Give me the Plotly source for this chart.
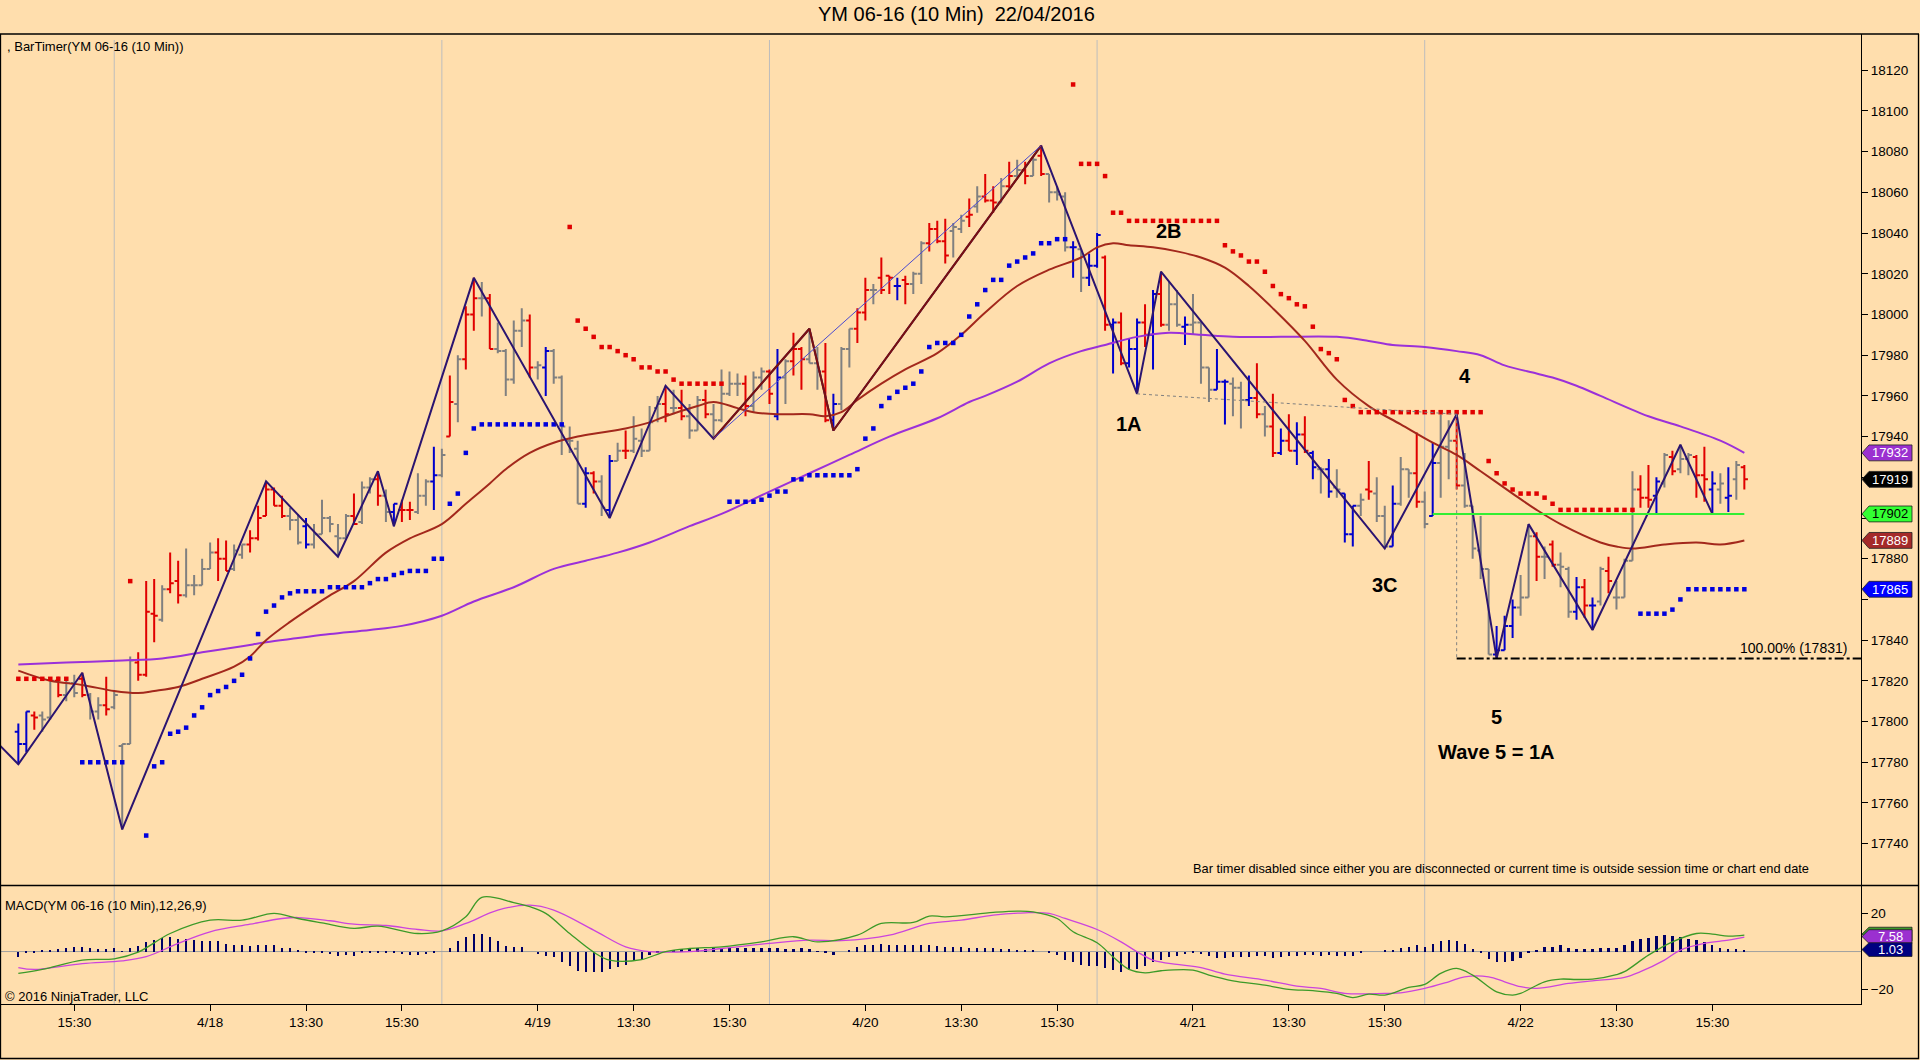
"""YM 06-16 (10 Min) bar chart with stops, moving averages, zigzag and MACD."""
import plotly.graph_objects as go

N = None

TITLE = 'YM 06-16 (10 Min)  22/04/2016'

# one entry per 10 minute bar, oldest first
OPEN = [
    17795, 17789, 17803, 17803, 17802, 17820, 17813, 17819, 17821, 17813,
    17805, 17808, 17807, 17788, 17789, 17829, 17823, 17853, 17850, 17865,
    17869, 17862, 17867, 17867, 17875, 17883, 17880, 17875, 17882, 17887,
    17890, 17901, 17914, 17906, 17901, 17899, 17896, 17887, 17892, 17900,
    17891, 17890, 17901, 17898, 17915, 17919, 17911, 17903, 17904, 17904,
    17903, 17911, 17918, 17921, 17940, 17956, 17978, 18000, 18008, 18008,
    17983, 17982, 17968, 17992, 17997, 17974, 17974, 17982, 17969, 17938,
    17934, 17907, 17922, 17918, 17904, 17928, 17933, 17933, 17938, 17933,
    17954, 17956, 17954, 17954, 17950, 17943, 17958, 17951, 17948, 17961,
    17966, 17966, 17955, 17969, 17972, 17950, 17969, 17977, 17983, 17978,
    17976, 17972, 17948, 17956, 17983, 17993, 18001, 18012, 18018, 18019,
    18014, 18017, 18015, 18020, 18035, 18042, 18036, 18041, 18042, 18048,
    18053, 18058, 18056, 18055, 18063, 18068, 18071, 18068, 18078, 18069,
    18060, 18058, 18033, 18032, 18018, 18024, 18028, 17995, 17996, 17976,
    17983, 17996, 17990, 18010, 17995, 18005, 17994, 17995, 17996, 17974,
    17963, 17967, 17966, 17964, 17958, 17959, 17951, 17945, 17932, 17938,
    17933, 17941, 17932, 17924, 17924, 17915, 17912, 17892, 17906, 17914,
    17912, 17901, 17886, 17907, 17924, 17922, 17908, 17901, 17927, 17935,
    17938, 17916, 17906, 17884, 17875, 17833, 17835, 17847, 17856, 17861,
    17891, 17881, 17887, 17877, 17875, 17854, 17866, 17857, 17859, 17874,
    17861, 17861, 17879, 17914, 17910, 17911, 17917, 17930, 17924, 17929,
    17930, 17921, 17914, 17914, 17910, 17919, 17925,
]
HIGH = [
    17799, 17805, 17805, 17805, 17821, 17822, 17821, 17823, 17824, 17814,
    17812, 17822, 17815, 17789, 17832, 17834, 17869, 17870, 17867, 17883,
    17879, 17885, 17872, 17880, 17888, 17890, 17889, 17887, 17887, 17894,
    17906, 17918, 17915, 17911, 17905, 17902, 17900, 17897, 17909, 17901,
    17897, 17902, 17912, 17918, 17920, 17923, 17914, 17907, 17909, 17908,
    17922, 17919, 17935, 17934, 17970, 17980, 18004, 18018, 18016, 18010,
    17996, 17983, 17997, 18003, 18000, 17977, 17984, 17983, 17970, 17945,
    17938, 17925, 17923, 17921, 17931, 17937, 17943, 17950, 17944, 17955,
    17960, 17965, 17963, 17963, 17956, 17960, 17963, 17956, 17973, 17972,
    17971, 17970, 17972, 17974, 17973, 17983, 17978, 17991, 17984, 17993,
    17984, 17986, 17961, 17984, 17993, 18003, 18018, 18015, 18028, 18019,
    18018, 18019, 18021, 18036, 18045, 18046, 18047, 18045, 18049, 18057,
    18063, 18069, 18063, 18067, 18075, 18076, 18075, 18077, 18083, 18069,
    18063, 18060, 18036, 18032, 18030, 18040, 18029, 17998, 18001, 17988,
    17998, 18005, 18012, 18021, 18016, 18012, 17999, 18010, 17996, 17974,
    17983, 17968, 17969, 17967, 17970, 17976, 17955, 17961, 17944, 17951,
    17947, 17950, 17933, 17925, 17929, 17924, 17912, 17906, 17912, 17928,
    17920, 17906, 17916, 17930, 17924, 17942, 17913, 17937, 17951, 17948,
    17951, 17932, 17906, 17901, 17875, 17847, 17852, 17860, 17872, 17897,
    17893, 17886, 17889, 17883, 17876, 17871, 17870, 17861, 17876, 17881,
    17869, 17880, 17923, 17921, 17926, 17920, 17932, 17933, 17936, 17932,
    17931, 17935, 17923, 17922, 17925, 17928, 17926,
]
LOW = [
    17779, 17785, 17796, 17795, 17801, 17812, 17810, 17812, 17812, 17801,
    17801, 17803, 17806, 17747, 17789, 17820, 17822, 17839, 17849, 17863,
    17858, 17861, 17862, 17867, 17875, 17869, 17874, 17874, 17880, 17883,
    17889, 17901, 17906, 17900, 17894, 17887, 17885, 17885, 17892, 17893,
    17881, 17890, 17897, 17897, 17912, 17906, 17898, 17896, 17898, 17899,
    17902, 17906, 17904, 17920, 17940, 17947, 17973, 17992, 17999, 17983,
    17981, 17960, 17966, 17984, 17969, 17968, 17960, 17966, 17931, 17932,
    17907, 17905, 17912, 17901, 17900, 17928, 17929, 17932, 17930, 17933,
    17947, 17947, 17951, 17948, 17939, 17943, 17949, 17939, 17947, 17960,
    17960, 17950, 17952, 17963, 17956, 17948, 17956, 17970, 17963, 17976,
    17963, 17947, 17943, 17953, 17974, 17986, 17997, 18005, 18010, 18010,
    18007, 18005, 18010, 18015, 18031, 18035, 18025, 18028, 18040, 18043,
    18050, 18055, 18050, 18055, 18062, 18068, 18064, 18068, 18068, 18055,
    18056, 18031, 18018, 18011, 18014, 18023, 17992, 17971, 17975, 17974,
    17961, 17984, 17973, 17994, 17992, 17994, 17985, 17990, 17966, 17957,
    17963, 17946, 17950, 17944, 17955, 17949, 17940, 17930, 17931, 17933,
    17926, 17932, 17919, 17912, 17910, 17910, 17888, 17886, 17901, 17909,
    17898, 17885, 17886, 17906, 17910, 17905, 17895, 17901, 17910, 17919,
    17914, 17905, 17880, 17870, 17833, 17831, 17835, 17841, 17852, 17861,
    17869, 17870, 17876, 17866, 17851, 17850, 17851, 17845, 17857, 17863,
    17855, 17861, 17879, 17905, 17905, 17902, 17915, 17921, 17922, 17921,
    17910, 17908, 17902, 17907, 17903, 17909, 17914,
]
CLOSE = [
    17789, 17805, 17802, 17801, 17820, 17813, 17819, 17814, 17813, 17805,
    17808, 17806, 17813, 17789, 17830, 17823, 17854, 17852, 17865, 17868,
    17862, 17867, 17867, 17875, 17883, 17880, 17874, 17884, 17887, 17890,
    17900, 17914, 17906, 17901, 17899, 17888, 17887, 17892, 17900, 17897,
    17890, 17901, 17897, 17915, 17919, 17911, 17903, 17907, 17904, 17904,
    17911, 17918, 17921, 17931, 17957, 17978, 18000, 18008, 18008, 17983,
    17982, 17968, 17992, 17997, 17974, 17975, 17982, 17969, 17945, 17938,
    17907, 17922, 17918, 17905, 17928, 17933, 17933, 17939, 17933, 17947,
    17956, 17951, 17954, 17950, 17943, 17958, 17951, 17948, 17961, 17966,
    17966, 17955, 17969, 17972, 17961, 17969, 17977, 17983, 17978, 17976,
    17972, 17948, 17956, 17983, 17993, 18001, 18012, 18012, 18012, 18018,
    18014, 18015, 18020, 18035, 18042, 18036, 18029, 18043, 18046, 18049,
    18058, 18056, 18055, 18063, 18068, 18071, 18068, 18076, 18069, 18060,
    18059, 18033, 18033, 18018, 18024, 18039, 17995, 17996, 17976, 17983,
    17996, 17990, 18010, 17995, 18005, 17995, 17995, 17996, 17974, 17963,
    17967, 17967, 17964, 17958, 17959, 17951, 17945, 17932, 17938, 17933,
    17941, 17933, 17925, 17924, 17913, 17914, 17892, 17906, 17909, 17913,
    17901, 17886, 17907, 17924, 17922, 17908, 17897, 17927, 17935, 17938,
    17916, 17906, 17885, 17875, 17833, 17835, 17847, 17856, 17861, 17891,
    17881, 17881, 17877, 17876, 17854, 17866, 17857, 17857, 17875, 17869,
    17861, 17879, 17914, 17910, 17909, 17918, 17931, 17923, 17929, 17931,
    17921, 17919, 17917, 17917, 17911, 17926, 17919,
]
# r = red bar, b = blue bar, g = gray bar
BAR_COLOR = (
    'bbrggrggrg' 'grgggrrrgr' 'rggggrrggr' 'rrrrggbggg' 'ggrggrgbrr'
    'ggbgrgrrgr' 'ggggrgbggg' 'gbrgbgrggg' 'grgrggrggg' 'grggrbgrrg'
    'grbggrrgrr' 'brggrrrggr' 'grrgrgrgrg' 'ggbgbbrbrb' 'brbrggbggg'
    'bbggbrgrbr' 'brbgbgbbgr' 'ggbggrgbgg' 'rggggbbbgg' 'rgrggbrbgr'
    'gggrrbgrgg' 'rrbgbgr'
)

RED_STOP = [
    17821, 17821, 17821, 17821, 17821, 17821, 17821, N, N, N,
    N, N, N, N, 17869, N, N, N, N, N,
    N, N, N, N, N, N, N, N, N, N,
    N, N, N, N, N, N, N, N, N, N,
    N, N, N, N, N, N, N, N, N, N,
    N, N, N, N, N, N, N, N, N, N,
    N, N, N, N, N, N, N, N, N, 18043,
    17997, 17993, 17989, 17984, 17984, 17982, 17980, 17978, 17974, 17974,
    17972, 17972, 17968, 17966, 17966, 17966, 17966, 17966, 17966, N,
    N, N, N, N, N, N, N, N, N, N,
    N, N, N, N, N, N, N, N, N, N,
    N, N, N, N, N, N, N, N, N, N,
    N, N, N, N, N, N, N, N, N, N,
    N, N, 18113, 18074, 18074, 18074, 18068, 18050, 18050, 18046,
    18046, 18046, 18046, 18046, 18046, 18046, 18046, 18046, 18046, 18046,
    18046, 18034, 18031, 18029, 18026, 18026, 18021, 18014, 18010, 18008,
    18005, 18004, 17994, 17983, 17981, 17978, 17958, 17955, 17952, 17952,
    17952, 17952, 17952, 17952, 17952, 17952, 17952, 17952, 17952, 17952,
    17952, 17952, 17952, 17952, 17928, 17922, 17917, 17914, 17912, 17912,
    17912, 17910, 17907, 17904, 17904, 17904, 17904, 17904, 17904, 17904,
    17904, 17904, 17904, N, N, N, N, N, N, N,
    N, N, N, N, N, N, N,
]
BLUE_STOP = [
    N, N, N, N, N, N, N, N, 17780, 17780,
    17780, 17780, 17780, 17780, N, N, 17744, 17778, 17780, 17794,
    17795, 17797, 17803, 17807, 17813, 17815, 17817, 17820, 17823, 17831,
    17843, 17854, 17857, 17861, 17863, 17864, 17864, 17864, 17864, 17866,
    17866, 17866, 17866, 17866, 17868, 17870, 17870, 17872, 17873, 17874,
    17874, 17874, 17880, 17880, 17907, 17912, 17932, 17944, 17946, 17946,
    17946, 17946, 17946, 17946, 17946, 17946, 17946, 17946, 17946, N,
    N, N, N, N, N, N, N, N, N, N,
    N, N, N, N, N, N, N, N, N, 17908,
    17908, 17908, 17908, 17909, 17911, 17913, 17913, 17919, 17919, 17921,
    17921, 17921, 17921, 17921, 17921, 17924, 17939, 17944, 17955, 17959,
    17962, 17964, 17966, 17972, 17984, 17986, 17986, 17986, 17990, 17999,
    18005, 18012, 18017, 18017, 18024, 18026, 18028, 18030, 18035, 18035,
    18037, 18037, N, N, N, N, N, N, N, N,
    N, N, N, N, N, N, N, N, N, N,
    N, N, N, N, N, N, N, N, N, N,
    N, N, N, N, N, N, N, N, N, N,
    N, N, N, N, N, N, N, N, N, N,
    N, N, N, N, N, N, N, N, N, N,
    N, N, N, N, N, N, N, N, N, N,
    N, N, N, 17853, 17853, 17853, 17853, 17855, 17860, 17865,
    17865, 17865, 17865, 17865, 17865, 17865, 17865,
]

# moving averages, read at a few bars
SMA_FAST_BAR = [0, 4, 8, 12, 15, 17, 20, 23, 27, 29, 31, 34, 37, 39, 42, 46, 49,
                53, 56, 59, 61, 64, 67, 70, 73, 76, 79, 81, 85, 87, 90, 92, 95,
                99, 101, 103, 105, 108, 111, 115, 118, 121, 125, 129, 133, 135,
                137, 139, 142, 145, 148, 151, 154, 157, 161, 165, 169, 173, 177,
                180, 183, 187, 190, 193, 198, 200, 202, 206, 210, 213, 216]
SMA_FAST = [17825, 17820, 17818, 17815, 17814, 17815, 17817, 17821, 17827,
            17832, 17840, 17849, 17857, 17862, 17869, 17883, 17890, 17897,
            17907, 17917, 17924, 17932, 17937, 17940, 17942, 17944, 17947,
            17950, 17955, 17957, 17954, 17952, 17951, 17951, 17950, 17952,
            17958, 17966, 17973, 17981, 17990, 18001, 18014, 18022, 18028,
            18033, 18035, 18034, 18033, 18031, 18028, 18023, 18014, 18003,
            17987, 17968, 17955, 17946, 17937, 17931, 17923, 17912, 17904,
            17897, 17888, 17886, 17885, 17887, 17888, 17887, 17889]
SMA_SLOW_BAR = [0, 6, 13, 18, 23, 28, 31, 35, 39, 44, 48, 53, 57, 62, 67, 71, 75,
                79, 84, 88, 94, 99, 104, 109, 115, 119, 121, 125, 129, 133, 136,
                140, 144, 148, 152, 158, 165, 169, 172, 176, 180, 183, 186, 190,
                192, 195, 198, 204, 208, 213, 216]
SMA_SLOW = [17828, 17829, 17830, 17831, 17834, 17837, 17839, 17841, 17843,
            17845, 17847, 17852, 17859, 17866, 17875, 17879, 17883, 17888,
            17896, 17902, 17913, 17922, 17931, 17940, 17949, 17957, 17960,
            17967, 17976, 17982, 17985, 17989, 17991, 17990, 17989, 17989,
            17989, 17987, 17985, 17984, 17982, 17980, 17975, 17971, 17969,
            17965, 17960, 17950, 17945, 17938, 17932]

ZIGZAG_BAR = [-3, 0, 8, 13, 31, 40, 45, 47, 57, 74, 81, 87, 99, 102, 128, 140,
              143, 171, 180, 185, 189, 197, 208, 212]
ZIGZAG = [17791, 17779, 17824, 17747, 17918, 17881, 17923, 17896, 18018, 17900,
          17965, 17939, 17993, 17943, 18083, 17961, 18021, 17885, 17951, 17831,
          17897, 17845, 17936, 17902]
ABC_BAR = [87, 99, 102, 128]
ABC = [17939, 17993, 17943, 18083]
CHANNEL_BAR = [87, 128]
CHANNEL = [17939, 18083]
WAVE_LABELS = ['1A', '2B', '3C', '4', '5', 'Wave 5 = 1A']
WAVE_LABEL_BAR = [139, 144, 171, 181, 185, 185]
WAVE_LABEL_PRICE = [17946, 18041, 17867, 17970, 17802, 17785]
WAVE1_END_BAR, WAVE1_END = 140, 17961
WAVE4_BAR, WAVE4 = 180, 17951
TARGET = 17831
GREEN_LINE_BAR = [177, 216]
GREEN_LINE = 17902

MACD_BAR = [0, 3, 8, 12, 15, 19, 24, 28, 32, 35, 38, 42, 45, 50, 53, 56, 58, 62,
            64, 66, 69, 72, 74, 78, 81, 84, 88, 93, 97, 100, 105, 108, 112, 114,
            116, 122, 125, 127, 130, 132, 135, 137, 139, 141, 143, 147, 149, 152,
            156, 159, 162, 165, 167, 169, 171, 174, 176, 178, 180, 182, 185, 187,
            188, 191, 193, 195, 197, 200, 201, 204, 207, 210, 212, 214, 216]
MACD = [-11.5, -9.4, -4.5, -3.8, -0.3, 9.5, 16.5, 16.5, 20.1, 17.4, 15.1, 12.2,
        13.4, 9.5, 10.9, 18.3, 28.5, 25.8, 23.6, 20.1, 9.5, -0.3, -4.5, -4.2,
        0.0, 1.6, 2.5, 5.1, 7.8, 5.1, 8.6, 14.8, 15.3, 18.7, 18.3, 20.6, 21.3,
        20.9, 17.4, 10.4, 4.6, -2.8, -9.4, -11.2, -10.1, -9.8, -12.4, -15.4,
        -17.7, -19.9, -20.6, -22.0, -24.2, -22.4, -22.9, -18.9, -17.3, -11.5,
        -8.9, -12.4, -21.2, -22.9, -22.0, -15.9, -14.5, -14.7, -14.5, -12.1,
        -10.6, -1.9, 5.1, 9.5, 9.2, 8.1, 8.6]
SIGNAL_BAR = [0, 2, 8, 13, 16, 20, 24, 29, 33, 35, 39, 42, 46, 50, 53, 56, 60,
              64, 67, 72, 76, 79, 84, 88, 94, 99, 103, 109, 114, 118, 122, 126,
              129, 131, 135, 138, 140, 142, 145, 148, 151, 156, 160, 163, 166,
              171, 173, 176, 179, 181, 184, 186, 188, 190, 194, 197, 201, 203,
              206, 208, 211, 214, 216]
SIGNAL = [-8.4, -9.4, -6.3, -4.9, -2.7, 4.3, 10.4, 14.4, 17.4, 17.9, 16.2, 14.4,
          13.7, 11.6, 10.9, 14.8, 21.8, 24.4, 21.8, 11.3, 2.5, 0.0, 0.0, 1.6,
          4.3, 6.0, 5.7, 8.6, 14.8, 16.5, 19.2, 20.4, 20.1, 17.4, 11.6, 5.1,
          -0.1, -4.5, -6.8, -8.4, -11.9, -15.0, -18.2, -19.4, -22.0, -22.0,
          -21.7, -19.4, -15.9, -13.3, -13.3, -15.9, -18.5, -19.4, -16.8, -15.4,
          -13.6, -10.6, -4.5, 0.8, 4.3, 6.0, 7.58]
HIST = [
    -2.8, -1.0, -0.5, 0.5, 1.0, 1.6, 2.1, 2.5, 2.3, 1.8,
    1.6, 1.6, 1.8, 0.2, 1.8, 2.8, 4.9, 6.3, 7.0, 7.4,
    6.7, 6.7, 6.3, 5.8, 5.6, 5.3, 4.2, 3.7, 3.2, 2.8,
    3.2, 3.5, 3.2, 2.1, 1.8, 0.3, -0.9, -0.7, -1.0, -1.4,
    -2.1, -1.8, -2.3, -1.0, -0.4, -0.7, -0.9, -1.0, -1.4, -1.8,
    -1.8, -1.2, -0.7, 0.0, 2.1, 5.3, 7.7, 9.1, 9.1, 7.7,
    5.3, 2.8, 2.3, 2.3, 0.0, -1.4, -2.1, -3.0, -5.6, -7.7,
    -10.0, -10.9, -10.9, -10.9, -9.1, -8.1, -7.0, -5.1, -3.7, -1.8,
    -1.0, 0.0, 0.9, 1.4, 1.9, 1.9, 1.6, 1.9, 2.1, 2.1,
    1.9, 1.9, 1.9, 1.9, 1.9, 1.9, 1.6, 1.6, 1.8, 1.4,
    0.2, -1.0, -1.8, 0.0, 1.0, 2.3, 3.2, 3.7, 4.2, 3.7,
    3.7, 3.5, 3.2, 3.2, 3.7, 2.8, 2.3, 2.3, 2.3, 2.1,
    2.1, 2.1, 1.8, 1.6, 1.4, 1.0, 1.0, 0.5, 0.0, -0.7,
    -1.8, -4.2, -5.6, -7.0, -7.4, -7.7, -8.6, -9.5, -10.9, -9.8,
    -9.1, -7.7, -5.6, -4.2, -3.0, -2.1, -1.4, -1.0, -1.4, -2.1,
    -3.2, -3.2, -2.8, -3.0, -2.8, -2.5, -2.5, -3.5, -2.8, -2.5,
    -2.1, -1.8, -1.8, -2.1, -1.8, -2.1, -2.5, -2.1, -1.0, 0.0,
    0.0, 0.4, 0.7, 1.8, 2.5, 3.2, 2.3, 4.2, 5.4, 6.3,
    5.3, 4.2, 1.4, -0.4, -3.9, -5.3, -5.6, -4.9, -3.5, -0.4,
    1.0, 2.5, 2.5, 3.2, 1.8, 1.4, 1.4, 1.4, 1.9, 1.9,
    2.1, 3.2, 5.6, 6.7, 7.2, 8.1, 8.8, 8.1, 7.7, 6.7,
    6.0, 4.9, 3.2, 1.9, 1.6, 1.4, 1.0,
]

SESSION_START_BAR = [12, 53, 94, 135, 176]
TICK_BAR = [7, 24, 36, 48, 65, 77, 89, 106, 118, 130, 147, 159, 171, 188, 200, 212]
TICK_TEXT = ['15:30', '4/18', '13:30', '15:30', '4/19', '13:30', '15:30', '4/20',
             '13:30', '15:30', '4/21', '13:30', '15:30', '4/22', '13:30', '15:30']
PRICE_TICKS = list(range(17740, 18121, 20))
# tick labels that sit behind the price flags on the right axis
PRICE_TICKS_COVERED = [17920, 17900, 17860]

# right axis price flags: value, fill, text colour
PRICE_FLAGS = [(17932, '#9b30d0', 'white'), (17919, '#000000', 'white'),
               (17902, '#33ff33', 'black'), (17889, '#a52a2a', 'white'),
               (17865, '#0000ff', 'white')]
# MACD flags: label (None = hidden behind the next one), centre, fill, text colour
MACD_FLAGS = [(None, 9.2, '#3c9a28', 'white'), ('7.58', 7.9, '#9b30d0', 'white'),
              ('1.03', 1.03, '#000080', 'white')]

BG = '#ffdead'
FONT = 'Liberation Sans'
W, H = 1920, 1060
PLOT_L, PLOT_R, PLOT_T, PLOT_B = 1, 1861, 34, 1004


def px_x(x):
    return (x - PLOT_L) / (PLOT_R - PLOT_L)


def px_y(y):
    return (PLOT_B - y) / (PLOT_B - PLOT_T)


def main():
    """Entry point."""
    bars = list(range(len(OPEN)))
    fig = go.Figure()

    colours = {'r': '#e00000', 'b': '#0000cc', 'g': '#808080'}
    for key, colour in colours.items():
        idx = [i for i in bars if BAR_COLOR[i] == key]
        fig.add_trace(go.Ohlc(
            x=idx, open=[OPEN[i] for i in idx], high=[HIGH[i] for i in idx],
            low=[LOW[i] for i in idx], close=[CLOSE[i] for i in idx],
            increasing_line_color=colour, decreasing_line_color=colour,
            line_width=2, tickwidth=0.45, xaxis='x', yaxis='y'))

    fig.add_trace(go.Scatter(x=SMA_SLOW_BAR, y=SMA_SLOW, mode='lines',
                             line=dict(color='#9b30d9', width=2, shape='spline'),
                             xaxis='x', yaxis='y'))
    fig.add_trace(go.Scatter(x=SMA_FAST_BAR, y=SMA_FAST, mode='lines',
                             line=dict(color='#a3281c', width=2, shape='spline'),
                             xaxis='x', yaxis='y'))
    fig.add_trace(go.Scatter(x=bars, y=RED_STOP, mode='markers',
                             marker=dict(symbol='square', size=4.5, color='#e00000'),
                             xaxis='x', yaxis='y'))
    fig.add_trace(go.Scatter(x=bars, y=BLUE_STOP, mode='markers',
                             marker=dict(symbol='square', size=4.5, color='#0000dd'),
                             xaxis='x', yaxis='y'))
    fig.add_trace(go.Scatter(x=ZIGZAG_BAR, y=ZIGZAG, mode='lines',
                             line=dict(color='#2b1470', width=2),
                             xaxis='x', yaxis='y'))
    fig.add_trace(go.Scatter(x=ABC_BAR, y=ABC, mode='lines',
                             line=dict(color='#7b1010', width=2),
                             xaxis='x', yaxis='y'))
    fig.add_trace(go.Scatter(x=CHANNEL_BAR, y=CHANNEL, mode='lines',
                             line=dict(color='#4a4ad0', width=1),
                             xaxis='x', yaxis='y'))
    fig.add_trace(go.Scatter(x=[WAVE1_END_BAR, WAVE4_BAR], y=[WAVE1_END, WAVE4],
                             mode='lines', line=dict(color='#808080', width=1, dash='dot'),
                             xaxis='x', yaxis='y'))
    fig.add_trace(go.Scatter(x=[WAVE4_BAR, WAVE4_BAR], y=[WAVE4, TARGET],
                             mode='lines', line=dict(color='#808080', width=1, dash='dot'),
                             xaxis='x', yaxis='y'))
    fig.add_trace(go.Scatter(x=GREEN_LINE_BAR, y=[GREEN_LINE] * 2, mode='lines',
                             line=dict(color='#33ee33', width=2),
                             xaxis='x', yaxis='y'))

    # MACD panel
    fig.add_trace(go.Bar(x=bars, y=HIST, width=0.28, marker_color='#000066',
                         marker_line_width=0, xaxis='x2', yaxis='y2'))
    fig.add_trace(go.Scatter(x=SIGNAL_BAR, y=SIGNAL, mode='lines',
                             line=dict(color='#cc44dd', width=1.3, shape='spline'),
                             xaxis='x2', yaxis='y2'))
    fig.add_trace(go.Scatter(x=MACD_BAR, y=MACD, mode='lines',
                             line=dict(color='#3c9a28', width=1.3, shape='spline'),
                             xaxis='x2', yaxis='y2'))

    xrange = [-2.17, 230.6]
    axis_font = dict(family=FONT, size=13.5, color='black')
    price_text = ['' if v in PRICE_TICKS_COVERED else str(v) for v in PRICE_TICKS]
    fig.update_layout(
        width=W, height=H, autosize=False, showlegend=False,
        paper_bgcolor=BG, plot_bgcolor=BG, bargap=0,
        margin=dict(l=PLOT_L, r=W - PLOT_R, t=PLOT_T, b=H - PLOT_B, pad=0),
        font=dict(family=FONT, size=13, color='black'),
        xaxis=dict(domain=[0, 1], range=xrange, anchor='y', showticklabels=False,
                   showgrid=False, zeroline=False, rangeslider=dict(visible=False),
                   ticks=''),
        yaxis=dict(domain=[px_y(885), 1], range=[17719.7, 18137.8], side='right',
                   anchor='x', tickvals=PRICE_TICKS, ticktext=price_text,
                   ticks='outside', ticklen=6,
                   tickcolor='black', showline=True, linecolor='black',
                   showgrid=False, zeroline=False, tickfont=axis_font),
        xaxis2=dict(domain=[0, 1], range=xrange, anchor='y2', tickvals=TICK_BAR,
                    ticktext=TICK_TEXT, ticks='outside', ticklen=6,
                    tickcolor='black', showline=True, linecolor='black',
                    showgrid=False, zeroline=False, tickfont=axis_font),
        yaxis2=dict(domain=[0, px_y(886)], range=[-27.6, 34.5], side='right',
                    anchor='x2', tickvals=[20, -20], tickformat='d',
                    ticks='outside', ticklen=6,
                    tickcolor='black', showline=True, linecolor='black',
                    showgrid=False, zeroline=False, tickfont=axis_font),
    )

    shapes = []
    for b in SESSION_START_BAR:
        shapes.append(dict(type='line', xref='x', yref='paper', x0=b, x1=b,
                           y0=0, y1=px_y(40), line=dict(color='#bdbdbd', width=1),
                           layer='below'))
    shapes.append(dict(type='line', xref='paper', yref='y2', x0=0, x1=1, y0=0, y1=0,
                       line=dict(color='#a0a0a0', width=1), layer='below'))
    shapes.append(dict(type='line', xref='x', yref='y', x0=WAVE4_BAR, x1=xrange[1],
                       y0=TARGET, y1=TARGET, line=dict(color='black', width=2,
                                                        dash='dashdot')))
    # frame lines
    for x0, y0, x1, y1 in [(0, 34, 1919, 34), (0.5, 34, 0.5, 1059),
                           (0, 885.5, 1919, 885.5), (1918.5, 34, 1918.5, 1059),
                           (0, 1058.5, 1919, 1058.5)]:
        shapes.append(dict(type='line', xref='paper', yref='paper',
                           x0=px_x(x0), x1=px_x(x1), y0=px_y(y0), y1=px_y(y1),
                           line=dict(color='black', width=1.3)))

    annotations = []

    def flag(text, centre, fill, text_colour, yref, half):
        xt, xb, xe = px_x(1862), px_x(1869), px_x(1912)
        shapes.append(dict(
            type='path', xref='paper', yref=yref, fillcolor=fill,
            line=dict(color='#202020', width=0.8),
            path=(f'M {xt},{centre} L {xb},{centre + half} L {xe},{centre + half} '
                  f'L {xe},{centre - half} L {xb},{centre - half} Z')))
        if text is not None:
            annotations.append(dict(
                x=px_x(1890), y=centre, xref='paper', yref=yref, showarrow=False,
                text=text, font=dict(family=FONT, size=13, color=text_colour),
                xanchor='center', yanchor='middle'))

    for value, fill, tc in PRICE_FLAGS:
        flag(str(value), value, fill, tc, 'y', 3.9)
    for text, centre, fill, tc in MACD_FLAGS:
        flag(text, centre, fill, tc, 'y2', 3.6)

    for text, b, p in zip(WAVE_LABELS, WAVE_LABEL_BAR, WAVE_LABEL_PRICE):
        annotations.append(dict(x=b, y=p, xref='x', yref='y', text=f'<b>{text}</b>',
                                showarrow=False, xanchor='center', yanchor='middle',
                                font=dict(family=FONT, size=20, color='black')))

    def label(x, y, text, size, xanchor='left'):
        annotations.append(dict(x=px_x(x), y=px_y(y), xref='paper', yref='paper',
                                text=text, showarrow=False, xanchor=xanchor,
                                yanchor='middle',
                                font=dict(family=FONT, size=size, color='black')))

    label(956, 14, TITLE, 20, 'center')
    label(5, 47, ', BarTimer(YM 06-16 (10 Min))', 13)
    label(1191, 868, ('Bar timer disabled since either you are disconnected or '
                      'current time is outside session time or chart end date'),
          12.8)
    label(3, 905, 'MACD(YM 06-16 (10 Min),12,26,9)', 13)
    label(3, 996, '© 2016 NinjaTrader, LLC', 13)
    annotations.append(dict(x=px_x(1849), y=TARGET + 5, xref='paper', yref='y',
                            xanchor='right', yanchor='middle', showarrow=False,
                            text='100.00% (17831)', font=dict(family=FONT, size=14)))

    fig.update_layout(shapes=shapes, annotations=annotations)
    fig.write_html('out.html', config={'displayModeBar': False},
                   post_script="document.body.style.margin = '0px';")


if __name__ == '__main__':
    main()
